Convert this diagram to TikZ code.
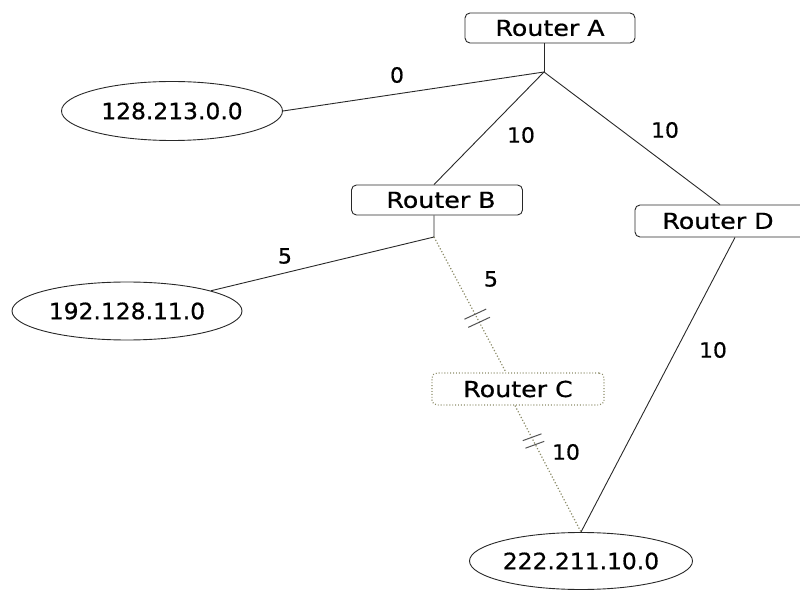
\documentclass[tikz,border=0pt]{standalone}
\usepackage{fontspec}
\setmainfont{DejaVu Sans}[FakeStretch=1.04,FakeBold=0.6]
\newfontfamily\routerfont{DejaVu Sans}[FakeStretch=1.15,FakeBold=0.6]
\usetikzlibrary{shapes.geometric}
\definecolor{dotc}{RGB}{140,140,105}
\definecolor{linec}{RGB}{40,40,40}
\begin{document}
\begin{tikzpicture}[x=1pt,y=1pt,
  router/.style={draw=linec, line width=0.9pt, rounded corners=5pt, minimum height=30pt, inner sep=0pt, font=\routerfont\fontsize{22}{22}\selectfont},
  net/.style={ellipse, draw=linec, line width=0.9pt, inner sep=0pt, font=\fontsize{22.5}{22.5}\selectfont},
  link/.style={draw=linec, line width=0.9pt},
  dlink/.style={draw=dotc, line width=1.2pt, dotted},
  brk/.style={draw=linec!80, line width=1pt},
  lbl/.style={font=\fontsize{21}{21}\selectfont, inner sep=0pt, text=black}]
\useasboundingbox (0,0) rectangle (800,592);
% routers
\node[router, minimum width=170pt] (A) at (550,564) {Router A};
\node[router, minimum width=171pt] (B) at (437,392) {\hspace{8pt}Router B};
\node[router, minimum width=172pt, minimum height=32pt, draw=dotc, dotted, line width=1.2pt] (C) at (518,203) {Router C};
\node[router, minimum width=170pt, minimum height=32pt] (D) at (720,371) {\hspace{-4pt}Router D\hspace{4pt}};
% networks
\node[net, minimum width=221pt, minimum height=59pt] (N1) at (172,481) {128.213.0.0};
\node[net, minimum width=230pt, minimum height=58pt] (N2) at (127,281) {192.128.11.0};
\node[net, minimum width=223pt, minimum height=57pt] (N3) at (581,31) {222.211.10.0};
% junctions
\coordinate (JA) at (544,520);
\coordinate (JB) at (434,355);
% links
\draw[link] (JA |- A.south) -- (JA);
\draw[link] (JA) -- (N1.east);
\draw[link] (JA) -- (JB |- B.north);
\draw[link] (JA) -- (D.north);
\draw[link] (JB |- B.south) -- (JB) -- (N2);
\draw[link] ([xshift=15pt]D.south) -- (N3.north);
\draw[dlink] (JB) -- ([xshift=-12pt]C.north) coordinate[pos=0.6] (m1);
\draw[dlink] ([xshift=-3pt]C.south) -- (N3.north) coordinate[pos=0.28] (m2);
% break marks
\draw[brk, shift={(m1)}, rotate=25] (-12,4.5) -- (12,4.5) (-12,-4.5) -- (12,-4.5);
\draw[brk, shift={(m2)}, rotate=20] (-10,4) -- (10,4) (-10,-4) -- (10,-4);
% labels
\node[lbl] (l0) at (397,517) {0};
\node[lbl] (l1) at (521,457) {10};
\node[lbl] (l2) at (665,462) {10};
\node[lbl] (l3) at (285,336) {5};
\node[lbl] (l4) at (491,313) {5};
\node[lbl] (l5) at (566,140) {10};
\node[lbl] (l6) at (713,242) {10};
\end{tikzpicture}
\end{document}
